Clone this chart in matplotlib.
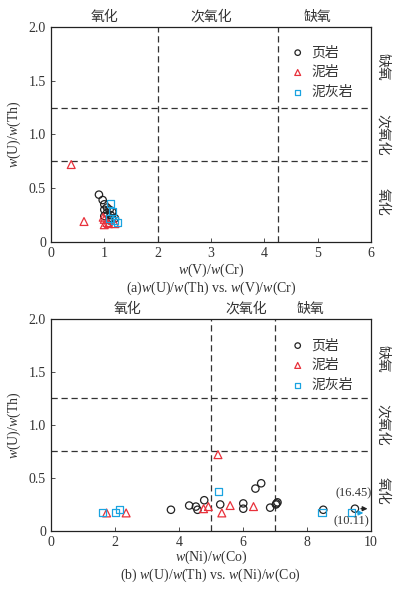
import matplotlib
matplotlib.use('Agg')
import matplotlib.pyplot as plt

plt.rcParams['font.family'] = ['Liberation Serif', 'Noto Sans CJK SC', 'DejaVu Sans']
plt.rcParams['mathtext.fontset'] = 'custom'
plt.rcParams['mathtext.rm'] = 'Liberation Serif'
plt.rcParams['mathtext.it'] = 'Liberation Serif:italic'
plt.rcParams['font.size'] = 10

CJK = ['Noto Sans CJK SC', 'DejaVu Sans']
TXT = '#333333'

# panel (a): w(V)/w(Cr) vs w(U)/w(Th)
shale_a_x = [0.90, 0.97, 1.00, 1.05, 1.00, 1.10, 1.15, 1.05, 1.12, 1.00, 1.15, 1.10, 1.20]
shale_a_y = [0.44, 0.39, 0.35, 0.32, 0.30, 0.30, 0.28, 0.27, 0.25, 0.24, 0.22, 0.20, 0.22]
mud_a_x = [0.38, 0.62, 0.98, 1.00, 1.05, 1.08, 1.20, 1.00]
mud_a_y = [0.72, 0.19, 0.23, 0.21, 0.18, 0.17, 0.17, 0.16]
marl_a_x = [1.12, 1.15, 1.20, 1.25, 1.10]
marl_a_y = [0.36, 0.28, 0.20, 0.18, 0.22]

# panel (b): w(Ni)/w(Co) vs w(U)/w(Th)
shale_b_x = [3.75, 4.32, 4.53, 4.58, 4.79, 5.29, 6.01, 6.01, 6.39, 6.57, 6.85,
             7.05, 7.08, 7.03, 8.51, 9.50]
shale_b_y = [0.20, 0.24, 0.23, 0.20, 0.29, 0.25, 0.26, 0.21, 0.40, 0.45, 0.22,
             0.26, 0.27, 0.25, 0.20, 0.21]
mud_b_x = [1.74, 2.35, 4.77, 4.92, 5.22, 5.34, 5.60, 6.33]
mud_b_y = [0.17, 0.17, 0.21, 0.23, 0.72, 0.17, 0.24, 0.23]
marl_b_x = [1.61, 2.03, 2.13, 5.25, 8.47, 9.40]
marl_b_y = [0.17, 0.17, 0.20, 0.37, 0.17, 0.17]

zones = ['氧化', '次氧化', '缺氧']
legend_names = ['页岩', '泥岩', '泥灰岩']


def draw(ax, sx, sy, mx, my, kx, ky, vlines, xlim, xticks, top_pos, leg_y):
    ax.scatter(sx, sy, marker='o', s=28, facecolors='none', edgecolors='#222222',
               linewidths=0.9, label=legend_names[0], zorder=3)
    ax.scatter(mx, my, marker='^', s=32, facecolors='none', edgecolors='#e8303a',
               linewidths=0.9, label=legend_names[1], zorder=3)
    ax.scatter(kx, ky, marker='s', s=26, facecolors='none', edgecolors='#1aa3e0',
               linewidths=0.9, label=legend_names[2], zorder=3)
    for v in vlines:
        ax.axvline(v, color='#333333', ls=(0, (5, 3)), lw=0.9)
    for h in [0.75, 1.25]:
        ax.axhline(h, color='#333333', ls=(0, (5, 3)), lw=0.9)
    ax.set_xlim(*xlim)
    ax.set_ylim(0, 2.0)
    ax.set_xticks(xticks)
    ax.set_yticks([0, 0.5, 1.0, 1.5, 2.0])
    ax.set_yticklabels(['0', '0.5', '1.0', '1.5', '2.0'])
    ax.tick_params(direction='in', length=3, labelsize=10, colors=TXT, width=0.6)
    for s in ax.spines.values():
        s.set_linewidth(0.9)
        s.set_color('#222222')
    ax.set_ylabel(r'$w$(U)/$w$(Th)', color=TXT, fontsize=10, labelpad=4)
    for name, xp in zip(zones, top_pos):
        ax.text(xp, 1.015, name, transform=ax.get_xaxis_transform(), ha='center',
                va='bottom', fontsize=10, color=TXT, family=CJK)
    for name, yp in zip(zones, [0.375, 1.0, 1.625]):
        ax.text(1.015, yp, name, transform=ax.get_yaxis_transform(), ha='left',
                va='center', rotation=270, fontsize=10, color=TXT, family=CJK)
    leg = ax.legend(loc='upper right', bbox_to_anchor=(0.975, leg_y), frameon=False,
                    handletextpad=0.0, labelspacing=0.42, borderaxespad=0.3,
                    markerscale=0.75, prop={'family': CJK, 'size': 10})
    for t in leg.get_texts():
        t.set_color(TXT)


fig = plt.figure(figsize=(3.98, 5.93), dpi=100)
ax1 = fig.add_axes([0.128, 0.592, 0.804, 0.3625])
ax2 = fig.add_axes([0.128, 0.1046, 0.804, 0.3575])

draw(ax1, shale_a_x, shale_a_y, mud_a_x, mud_a_y, marl_a_x, marl_a_y,
     [2, 4.25], (0, 6), [0, 1, 2, 3, 4, 5, 6], [1.0, 3.0, 5.0], 0.96)
ax1.set_xlabel(r'$w$(V)/$w$(Cr)', color=TXT, fontsize=10, labelpad=1)
fig.text(0.53, 0.514, r'(a)$w$(U)/$w$(Th) vs. $w$(V)/$w$(Cr)', ha='center',
         va='center', fontsize=10, color=TXT)

draw(ax2, shale_b_x, shale_b_y, mud_b_x, mud_b_y, marl_b_x, marl_b_y,
     [5, 7], (0, 10), [0, 2, 4, 6, 8, 10], [2.4, 6.1, 8.1], 0.955)
ax2.set_xlabel(r'$w$(Ni)/$w$(Co)', color=TXT, fontsize=10, labelpad=0)
fig.text(0.53, 0.030, r'(b) $w$(U)/$w$(Th) vs. $w$(Ni)/$w$(Co)', ha='center',
         va='center', fontsize=10, color=TXT)

# off-scale points marked with arrows and their true values
ax2.annotate('', xy=(9.98, shale_b_y[-1]), xytext=(9.6, shale_b_y[-1]),
             arrowprops=dict(arrowstyle='-|>', color='#222222', lw=0.9, mutation_scale=7))
ax2.annotate('', xy=(9.85, marl_b_y[-1]), xytext=(9.5, marl_b_y[-1]),
             arrowprops=dict(arrowstyle='-|>', color='#1aa3e0', lw=0.9, mutation_scale=7))
ax2.text(9.45, 0.36, '(16.45)', ha='center', va='center', fontsize=9, color=TXT)
ax2.text(9.38, 0.09, '(10.11)', ha='center', va='center', fontsize=9, color=TXT)

fig.savefig('out.png', dpi=100)
